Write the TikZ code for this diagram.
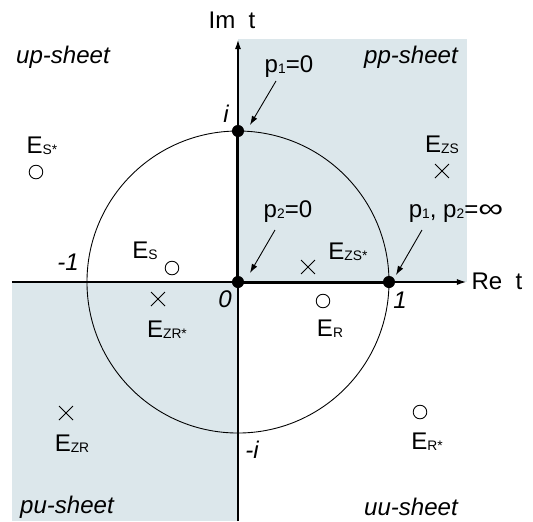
\documentclass[tikz,border=0pt]{standalone}
\usepackage{fontspec}
\setmainfont{Liberation Sans}
\usetikzlibrary{arrows.meta, positioning, shapes.misc}

\definecolor{sheetblue}{HTML}{DCE7EB}
\newcommand{\lowsub}[1]{\raisebox{-1pt}{\fontsize{7.8}{8}\selectfont #1}}

\begin{document}
\begin{tikzpicture}[
txt/.style={font=\fontsize{13.6}{15}\selectfont, inner sep=1pt},
lbl/.style={txt, anchor=base},
sheet/.style={txt, font=\fontsize{13.6}{15}\selectfont\itshape},
num/.style={lbl, font=\fontsize{13.6}{15}\selectfont\itshape},
dot/.style={circle, fill=black, inner sep=0pt, minimum size=0.24cm},
opt/.style={circle, draw, line width=0.5pt, inner sep=0pt, minimum size=0.27cm},
xpt/.style={cross out, draw, line width=0.5pt, inner sep=0pt, minimum size=0.26cm},
axis/.style={-{Latex[length=1.8mm, width=1.2mm]}, line width=0.6pt},
cut/.style={line width=1.7pt},
line/.style={-{Latex[length=1.8mm, width=1.2mm]}, line width=0.5pt}
]
\useasboundingbox (-4.728,-4.748) rectangle (5.861,5.603);

% the two shaded sheets
\fill[sheetblue] (0,0) rectangle (4.55,4.828);
\fill[sheetblue] (-4.49,-4.748) rectangle (0,0);

\draw[line width=0.5pt] (0,0) circle (3);

% axes
\coordinate (xl) at (-4.49,0);
\coordinate (xr) at (4.53,0);
\coordinate (yb) at (0,-4.748);
\coordinate (yt) at (0,4.808);
\draw[axis] (xl) -- (xr);
\draw[axis] (yb) -- (yt);

% points on the cuts
\node[dot] (o) at (0,0) {};
\node[dot] (ipt) at (0,3) {};
\node[dot] (one) at (3,0) {};
\draw[cut] (o.center) -- (ipt.center);
\draw[cut] (o.center) -- (one.center);

\node[lbl] (imt) at (-0.119,5.027) {Im\ \ t};
\node[lbl] (ret) at (5.146,-0.139) {Re\ \ t};
\node[num] (li) at (-0.238,3.179) {i};
\node[num] (lm1) at (-3.378,0.219) {-1};
\node[num] (l0) at (-0.258,-0.497) {0};
\node[num] (l1) at (3.219,-0.517) {1};
\node[num] (lmi) at (0.278,-3.497) {-i};

% sheets
\node[sheet] (up) at (-3.477,4.470) {up-sheet};
\node[sheet] (pp) at (3.437,4.470) {pp-sheet};
\node[sheet] (pu) at (-3.397,-4.470) {pu-sheet};
\node[sheet] (uu) at (3.437,-4.470) {uu-sheet};

% p labels and arrows
\node[lbl] (pone) at (1.013,4.172) {p\lowsub{1}=0};
\node[lbl] (ptwo) at (0.993,1.291) {p\lowsub{2}=0};
\node[lbl] (pinf) at (4.331,1.291) {p\lowsub{1}, p\lowsub{2}=\scalebox{1.45}[1.1]{∞}};
\coordinate (tipone) at (0.238,3.119);
\coordinate (tiptwo) at (0.238,0.179);
\coordinate (tipinf) at (3.139,0.139);
\draw[line] ([shift={(-0.258,-0.179)}]pone.base) -- (tipone);
\draw[line] ([shift={(-0.258,-0.258)}]ptwo.base) -- (tiptwo);
\draw[line] ([shift={(-0.676,-0.258)}]pinf.base) -- (tipinf);

% poles
\node[opt] (es2) at (-4.013,2.185) {};
\node[lbl] at (-3.894,2.563) {E\lowsub{S*}};
\node[opt] (es) at (-1.311,0.278) {};
\node[lbl] at (-1.848,0.477) {E\lowsub{S}};
\node[xpt] (ezs) at (4.053,2.205) {};
\node[lbl] at (4.053,2.583) {E\lowsub{ZS}};
\node[xpt] (ezs2) at (1.391,0.298) {};
\node[lbl] at (2.185,0.457) {E\lowsub{ZS*}};
\node[xpt] (ezr2) at (-1.589,-0.338) {};
\node[lbl] at (-1.411,-1.093) {E\lowsub{ZR*}};
\node[opt] (er) at (1.689,-0.377) {};
\node[lbl] at (1.828,-1.073) {E\lowsub{R}};
\node[xpt] (ezr) at (-3.417,-2.603) {};
\node[lbl] at (-3.298,-3.358) {E\lowsub{ZR}};
\node[opt] (er2) at (3.616,-2.583) {};
\node[lbl] at (3.755,-3.318) {E\lowsub{R*}};
\end{tikzpicture}
\end{document}
